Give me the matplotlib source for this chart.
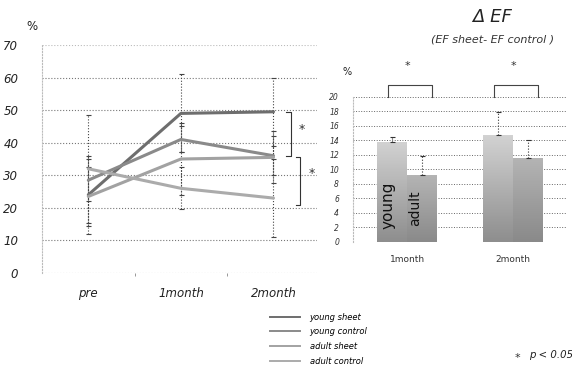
import numpy as np
import matplotlib
matplotlib.use("Agg")
from matplotlib import pyplot as plt
from matplotlib.colors import LinearSegmentedColormap
from matplotlib.lines import Line2D

# left panel: EF (%) over time, four groups
times = ["pre", "1month", "2month"]
young_sheet = [24, 49, 49.5]
young_control = [28.5, 41, 36]
adult_sheet = [23.5, 35, 35.5]
adult_control = [32, 26, 23]
young_sheet_err = [12, 12, 10.5]
young_control_err = [6.5, 4, 6]
adult_sheet_err = [9, 11, 8]
adult_control_err = [16.5, 6.5, 12]

# right panel: delta EF (sheet - control)
months = ["1month", "2month"]
delta_young = [13.8, 14.7]
delta_adult = [9.2, 11.6]
delta_young_err = [0.7, 3.2]
delta_adult_err = [2.7, 2.4]

W, H = 572, 376
fig = plt.figure(figsize=(W / 100, H / 100), dpi=100)

def fx(px):
    return px / W

def fy(py):
    return 1 - py / H

# ---------------- left panel
ax = fig.add_axes([fx(42), fy(273), fx(317 - 42), (273 - 45) / H])
x = np.arange(len(times))
series = [
    ("young sheet", young_sheet, young_sheet_err, "#6e6e6e"),
    ("young control", young_control, young_control_err, "#8a8a8a"),
    ("adult sheet", adult_sheet, adult_sheet_err, "#a2a2a2"),
    ("adult control", adult_control, adult_control_err, "#ababab"),
]
handles = []
for name, vals, err, col in series:
    eb = ax.errorbar(x, vals, yerr=err, fmt="none", ecolor="#444444",
                     elinewidth=0.8, capsize=1.8, capthick=0.8, zorder=2)
    eb[2][0].set_linestyle(":")
    ax.plot(x, vals, color=col, lw=2.2, zorder=3, solid_capstyle="round")
    handles.append(Line2D([], [], color=col, lw=1.4, label=name))

ax.set_xlim(-0.5, 2.47)
ax.set_ylim(0, 70)
ax.set_yticks(range(0, 71, 10))
for v in range(10, 71, 10):
    ax.axhline(v, color="#777777" if v < 70 else "#bbbbbb", lw=0.8,
               ls=":", zorder=1)
ax.axhline(0, color="#999999", lw=0.8, ls=":", zorder=1)
for s in ["top", "right", "bottom"]:
    ax.spines[s].set_visible(False)
ax.spines["left"].set_linestyle(":")
ax.spines["left"].set_color("#bbbbbb")
ax.set_xticks(x)
ax.set_xticklabels(times, fontstyle="italic", fontsize=8.5, color="#222222")
ax.set_xticks([0.5, 1.5], minor=True)
ax.tick_params(axis="x", which="major", length=0, pad=10)
ax.tick_params(axis="x", which="minor", length=2.5, color="#888888")
ax.tick_params(axis="y", length=0, pad=17)
for t in ax.get_yticklabels():
    t.set_fontstyle("italic")
    t.set_fontsize(8.5)
    t.set_color("#222222")

# significance brackets at 2month
def side_bracket(x0, x1, y0, y1, sx, sy):
    ax.plot([x0, x1, x1, x0], [y0, y0, y1, y1], color="#333333", lw=0.8,
            clip_on=False, zorder=4)
    ax.text(sx, sy, "*", fontsize=9, ha="center", va="center",
            color="#333333", clip_on=False)

side_bracket(2.14, 2.19, 49.4, 35.8, 2.31, 44)
side_bracket(2.24, 2.29, 35.6, 21, 2.41, 30.5)

fig.text(fx(32), fy(27), "%", fontsize=8.5, ha="center", va="center",
         color="#222222")

# legend
fig.legend(handles=handles, loc="upper left",
           bbox_to_anchor=(fx(262), fy(305)), frameon=False,
           handlelength=3.6, handletextpad=1.2,
           labelspacing=0.7, prop={"style": "italic", "size": 6})

fig.text(fx(517), fy(358), "*", fontsize=8, ha="center", va="center",
         color="#333333")
fig.text(fx(529), fy(355), "p < 0.05", fontsize=7.3, ha="left",
         va="center", fontstyle="italic", color="#222222")

# ---------------- right panel
bx = fig.add_axes([fx(353), fy(242), fx(567 - 353), (242 - 97) / H])
xm = np.arange(len(months))
bw = 0.28
cmap_y = LinearSegmentedColormap.from_list("yg", ["#d2d2d2", "#8e8e8e"])
cmap_a = LinearSegmentedColormap.from_list("ag", ["#b4b4b4", "#8a8a8a"])
grad = np.linspace(0, 1, 64).reshape(-1, 1)

bars_y = bx.bar(xm - bw / 2, delta_young, bw, color="none", zorder=3)
bars_a = bx.bar(xm + bw / 2, delta_adult, bw, color="none", zorder=3)
for bars, cmap in [(bars_y, cmap_y), (bars_a, cmap_a)]:
    for b in bars:
        x0, w, hgt = b.get_x(), b.get_width(), b.get_height()
        im = bx.imshow(grad, extent=[x0, x0 + w, 0, hgt], cmap=cmap,
                       aspect="auto", origin="upper", zorder=3)
        im.set_clip_path(b)

for xs, vals, err in [(xm - bw / 2, delta_young, delta_young_err),
                      (xm + bw / 2, delta_adult, delta_adult_err)]:
    eb = bx.errorbar(xs, vals, yerr=[[0] * len(err), err], fmt="none",
                     ecolor="#333333", elinewidth=0.8, capsize=1.8,
                     capthick=0.8, zorder=4)
    eb[2][0].set_linestyle(":")

bx.set_xlim(-0.51, 1.51)
bx.set_ylim(0, 20)
bx.set_yticks(range(0, 21, 2))
for v in range(2, 21, 2):
    bx.axhline(v, color="#666666", lw=0.7, ls=":", zorder=1)
bx.axhline(0, color="#aaaaaa", lw=0.7, ls=":", zorder=1)
for s in ["top", "right", "bottom"]:
    bx.spines[s].set_visible(False)
bx.spines["left"].set_linestyle(":")
bx.spines["left"].set_color("#bbbbbb")
bx.set_xticks(xm)
bx.set_xticklabels(months, fontsize=6.5, color="#333333")
bx.tick_params(axis="x", length=0, pad=9)
bx.tick_params(axis="y", length=0, pad=10, labelsize=5.5,
               labelcolor="#333333")
for t in bx.get_yticklabels():
    t.set_fontstyle("italic")

bx.text(-0.18, 5.0, "young", rotation=90, fontsize=11, ha="center",
        va="center", color="#111111", zorder=5)
bx.text(0.08, 4.6, "adult", rotation=90, fontsize=10, ha="center",
        va="center", color="#111111", zorder=5)

for i in xm:
    bx.plot([i - 0.18, i - 0.18, i + 0.24, i + 0.24],
            [20, 21.6, 21.6, 20], color="#444444", lw=0.8, clip_on=False)
    bx.text(i, 24.3, "*", fontsize=8, ha="center", va="center",
            color="#333333", clip_on=False)

fig.text(fx(347), fy(72), "%", fontsize=7, ha="center", va="center",
         color="#222222")
fig.text(fx(492), fy(17), "\u0394 EF", fontsize=13, ha="center",
         va="center", fontstyle="italic", color="#222222")
fig.text(fx(493), fy(40), "(EF sheet- EF control )", fontsize=8,
         ha="center", va="center", fontstyle="italic", color="#333333")

fig.savefig("out.png", dpi=100)
